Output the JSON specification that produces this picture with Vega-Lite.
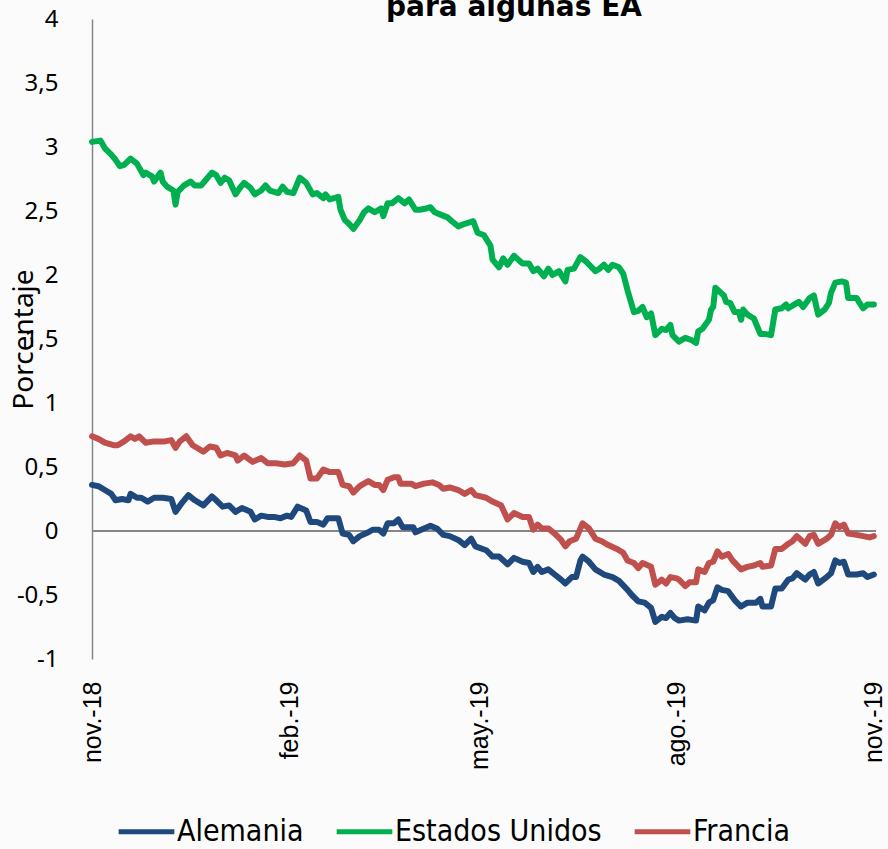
{
  "$schema": "https://vega.github.io/schema/vega-lite/v6.json",
  "autosize": {"type": "none"},
  "width": 784,
  "height": 640,
  "padding": {"left": 92, "top": 19, "right": 12, "bottom": 190},
  "background": "#fbfbfb",
  "title": {"text": "para algunas EA", "fontSize": 28, "font": "DejaVu Sans", "fontWeight": "bold", "color": "#000000", "frame": "group", "anchor": "middle", "dx": 30, "baseline": "alphabetic", "offset": -37},
  "config": {"view": {"stroke": null}, "axis": {"grid": false}},
  "data": {"values": [
    {"fecha":"2018-11-01","pais":"Estados Unidos","valor":3.04},
    {"fecha":"2018-11-05","pais":"Estados Unidos","valor":3.05},
    {"fecha":"2018-11-07","pais":"Estados Unidos","valor":2.99},
    {"fecha":"2018-11-10","pais":"Estados Unidos","valor":2.94},
    {"fecha":"2018-11-12","pais":"Estados Unidos","valor":2.90},
    {"fecha":"2018-11-14","pais":"Estados Unidos","valor":2.85},
    {"fecha":"2018-11-16","pais":"Estados Unidos","valor":2.86},
    {"fecha":"2018-11-19","pais":"Estados Unidos","valor":2.91},
    {"fecha":"2018-11-22","pais":"Estados Unidos","valor":2.87},
    {"fecha":"2018-11-25","pais":"Estados Unidos","valor":2.78},
    {"fecha":"2018-11-26","pais":"Estados Unidos","valor":2.80},
    {"fecha":"2018-11-29","pais":"Estados Unidos","valor":2.77},
    {"fecha":"2018-11-30","pais":"Estados Unidos","valor":2.73},
    {"fecha":"2018-12-03","pais":"Estados Unidos","valor":2.80},
    {"fecha":"2018-12-04","pais":"Estados Unidos","valor":2.73},
    {"fecha":"2018-12-06","pais":"Estados Unidos","valor":2.69},
    {"fecha":"2018-12-09","pais":"Estados Unidos","valor":2.66},
    {"fecha":"2018-12-10","pais":"Estados Unidos","valor":2.55},
    {"fecha":"2018-12-11","pais":"Estados Unidos","valor":2.65},
    {"fecha":"2018-12-14","pais":"Estados Unidos","valor":2.70},
    {"fecha":"2018-12-17","pais":"Estados Unidos","valor":2.73},
    {"fecha":"2018-12-19","pais":"Estados Unidos","valor":2.70},
    {"fecha":"2018-12-22","pais":"Estados Unidos","valor":2.70},
    {"fecha":"2018-12-24","pais":"Estados Unidos","valor":2.74},
    {"fecha":"2018-12-27","pais":"Estados Unidos","valor":2.80},
    {"fecha":"2018-12-29","pais":"Estados Unidos","valor":2.78},
    {"fecha":"2018-12-31","pais":"Estados Unidos","valor":2.72},
    {"fecha":"2019-01-02","pais":"Estados Unidos","valor":2.76},
    {"fecha":"2019-01-04","pais":"Estados Unidos","valor":2.74},
    {"fecha":"2019-01-07","pais":"Estados Unidos","valor":2.63},
    {"fecha":"2019-01-09","pais":"Estados Unidos","valor":2.68},
    {"fecha":"2019-01-11","pais":"Estados Unidos","valor":2.72},
    {"fecha":"2019-01-14","pais":"Estados Unidos","valor":2.68},
    {"fecha":"2019-01-16","pais":"Estados Unidos","valor":2.63},
    {"fecha":"2019-01-19","pais":"Estados Unidos","valor":2.66},
    {"fecha":"2019-01-21","pais":"Estados Unidos","valor":2.70},
    {"fecha":"2019-01-23","pais":"Estados Unidos","valor":2.66},
    {"fecha":"2019-01-27","pais":"Estados Unidos","valor":2.64},
    {"fecha":"2019-01-29","pais":"Estados Unidos","valor":2.69},
    {"fecha":"2019-01-31","pais":"Estados Unidos","valor":2.65},
    {"fecha":"2019-02-03","pais":"Estados Unidos","valor":2.64},
    {"fecha":"2019-02-06","pais":"Estados Unidos","valor":2.76},
    {"fecha":"2019-02-09","pais":"Estados Unidos","valor":2.72},
    {"fecha":"2019-02-12","pais":"Estados Unidos","valor":2.63},
    {"fecha":"2019-02-14","pais":"Estados Unidos","valor":2.64},
    {"fecha":"2019-02-17","pais":"Estados Unidos","valor":2.60},
    {"fecha":"2019-02-18","pais":"Estados Unidos","valor":2.63},
    {"fecha":"2019-02-20","pais":"Estados Unidos","valor":2.59},
    {"fecha":"2019-02-24","pais":"Estados Unidos","valor":2.61},
    {"fecha":"2019-02-25","pais":"Estados Unidos","valor":2.51},
    {"fecha":"2019-02-27","pais":"Estados Unidos","valor":2.43},
    {"fecha":"2019-03-01","pais":"Estados Unidos","valor":2.40},
    {"fecha":"2019-03-03","pais":"Estados Unidos","valor":2.36},
    {"fecha":"2019-03-06","pais":"Estados Unidos","valor":2.43},
    {"fecha":"2019-03-08","pais":"Estados Unidos","valor":2.49},
    {"fecha":"2019-03-10","pais":"Estados Unidos","valor":2.52},
    {"fecha":"2019-03-13","pais":"Estados Unidos","valor":2.49},
    {"fecha":"2019-03-16","pais":"Estados Unidos","valor":2.52},
    {"fecha":"2019-03-17","pais":"Estados Unidos","valor":2.46},
    {"fecha":"2019-03-19","pais":"Estados Unidos","valor":2.56},
    {"fecha":"2019-03-21","pais":"Estados Unidos","valor":2.56},
    {"fecha":"2019-03-24","pais":"Estados Unidos","valor":2.60},
    {"fecha":"2019-03-27","pais":"Estados Unidos","valor":2.56},
    {"fecha":"2019-03-29","pais":"Estados Unidos","valor":2.59},
    {"fecha":"2019-04-01","pais":"Estados Unidos","valor":2.51},
    {"fecha":"2019-04-03","pais":"Estados Unidos","valor":2.51},
    {"fecha":"2019-04-06","pais":"Estados Unidos","valor":2.52},
    {"fecha":"2019-04-08","pais":"Estados Unidos","valor":2.53},
    {"fecha":"2019-04-10","pais":"Estados Unidos","valor":2.49},
    {"fecha":"2019-04-13","pais":"Estados Unidos","valor":2.47},
    {"fecha":"2019-04-16","pais":"Estados Unidos","valor":2.45},
    {"fecha":"2019-04-18","pais":"Estados Unidos","valor":2.42},
    {"fecha":"2019-04-21","pais":"Estados Unidos","valor":2.38},
    {"fecha":"2019-04-24","pais":"Estados Unidos","valor":2.40},
    {"fecha":"2019-04-28","pais":"Estados Unidos","valor":2.42},
    {"fecha":"2019-04-30","pais":"Estados Unidos","valor":2.33},
    {"fecha":"2019-05-03","pais":"Estados Unidos","valor":2.31},
    {"fecha":"2019-05-06","pais":"Estados Unidos","valor":2.23},
    {"fecha":"2019-05-07","pais":"Estados Unidos","valor":2.12},
    {"fecha":"2019-05-10","pais":"Estados Unidos","valor":2.06},
    {"fecha":"2019-05-12","pais":"Estados Unidos","valor":2.13},
    {"fecha":"2019-05-14","pais":"Estados Unidos","valor":2.08},
    {"fecha":"2019-05-17","pais":"Estados Unidos","valor":2.15},
    {"fecha":"2019-05-21","pais":"Estados Unidos","valor":2.09},
    {"fecha":"2019-05-24","pais":"Estados Unidos","valor":2.09},
    {"fecha":"2019-05-26","pais":"Estados Unidos","valor":2.03},
    {"fecha":"2019-05-28","pais":"Estados Unidos","valor":2.05},
    {"fecha":"2019-05-31","pais":"Estados Unidos","valor":1.99},
    {"fecha":"2019-06-02","pais":"Estados Unidos","valor":2.05},
    {"fecha":"2019-06-04","pais":"Estados Unidos","valor":2.00},
    {"fecha":"2019-06-07","pais":"Estados Unidos","valor":2.03},
    {"fecha":"2019-06-10","pais":"Estados Unidos","valor":1.95},
    {"fecha":"2019-06-11","pais":"Estados Unidos","valor":2.04},
    {"fecha":"2019-06-14","pais":"Estados Unidos","valor":2.05},
    {"fecha":"2019-06-17","pais":"Estados Unidos","valor":2.14},
    {"fecha":"2019-06-20","pais":"Estados Unidos","valor":2.10},
    {"fecha":"2019-06-24","pais":"Estados Unidos","valor":2.03},
    {"fecha":"2019-06-26","pais":"Estados Unidos","valor":2.05},
    {"fecha":"2019-06-28","pais":"Estados Unidos","valor":2.08},
    {"fecha":"2019-06-30","pais":"Estados Unidos","valor":2.04},
    {"fecha":"2019-07-02","pais":"Estados Unidos","valor":2.08},
    {"fecha":"2019-07-05","pais":"Estados Unidos","valor":2.06},
    {"fecha":"2019-07-07","pais":"Estados Unidos","valor":2.01},
    {"fecha":"2019-07-09","pais":"Estados Unidos","valor":1.88},
    {"fecha":"2019-07-12","pais":"Estados Unidos","valor":1.71},
    {"fecha":"2019-07-14","pais":"Estados Unidos","valor":1.72},
    {"fecha":"2019-07-16","pais":"Estados Unidos","valor":1.75},
    {"fecha":"2019-07-18","pais":"Estados Unidos","valor":1.67},
    {"fecha":"2019-07-20","pais":"Estados Unidos","valor":1.70},
    {"fecha":"2019-07-22","pais":"Estados Unidos","valor":1.53},
    {"fecha":"2019-07-25","pais":"Estados Unidos","valor":1.58},
    {"fecha":"2019-07-27","pais":"Estados Unidos","valor":1.57},
    {"fecha":"2019-07-29","pais":"Estados Unidos","valor":1.61},
    {"fecha":"2019-07-30","pais":"Estados Unidos","valor":1.53},
    {"fecha":"2019-08-02","pais":"Estados Unidos","valor":1.48},
    {"fecha":"2019-08-05","pais":"Estados Unidos","valor":1.51},
    {"fecha":"2019-08-08","pais":"Estados Unidos","valor":1.49},
    {"fecha":"2019-08-10","pais":"Estados Unidos","valor":1.47},
    {"fecha":"2019-08-11","pais":"Estados Unidos","valor":1.56},
    {"fecha":"2019-08-13","pais":"Estados Unidos","valor":1.58},
    {"fecha":"2019-08-16","pais":"Estados Unidos","valor":1.65},
    {"fecha":"2019-08-17","pais":"Estados Unidos","valor":1.73},
    {"fecha":"2019-08-18","pais":"Estados Unidos","valor":1.75},
    {"fecha":"2019-08-19","pais":"Estados Unidos","valor":1.90},
    {"fecha":"2019-08-23","pais":"Estados Unidos","valor":1.84},
    {"fecha":"2019-08-24","pais":"Estados Unidos","valor":1.79},
    {"fecha":"2019-08-26","pais":"Estados Unidos","valor":1.78},
    {"fecha":"2019-08-28","pais":"Estados Unidos","valor":1.71},
    {"fecha":"2019-08-30","pais":"Estados Unidos","valor":1.71},
    {"fecha":"2019-08-31","pais":"Estados Unidos","valor":1.65},
    {"fecha":"2019-09-01","pais":"Estados Unidos","valor":1.73},
    {"fecha":"2019-09-03","pais":"Estados Unidos","valor":1.69},
    {"fecha":"2019-09-06","pais":"Estados Unidos","valor":1.66},
    {"fecha":"2019-09-09","pais":"Estados Unidos","valor":1.54},
    {"fecha":"2019-09-11","pais":"Estados Unidos","valor":1.54},
    {"fecha":"2019-09-14","pais":"Estados Unidos","valor":1.53},
    {"fecha":"2019-09-16","pais":"Estados Unidos","valor":1.73},
    {"fecha":"2019-09-19","pais":"Estados Unidos","valor":1.74},
    {"fecha":"2019-09-21","pais":"Estados Unidos","valor":1.77},
    {"fecha":"2019-09-22","pais":"Estados Unidos","valor":1.74},
    {"fecha":"2019-09-25","pais":"Estados Unidos","valor":1.77},
    {"fecha":"2019-09-27","pais":"Estados Unidos","valor":1.79},
    {"fecha":"2019-09-29","pais":"Estados Unidos","valor":1.75},
    {"fecha":"2019-10-02","pais":"Estados Unidos","valor":1.82},
    {"fecha":"2019-10-04","pais":"Estados Unidos","valor":1.84},
    {"fecha":"2019-10-06","pais":"Estados Unidos","valor":1.69},
    {"fecha":"2019-10-09","pais":"Estados Unidos","valor":1.73},
    {"fecha":"2019-10-11","pais":"Estados Unidos","valor":1.78},
    {"fecha":"2019-10-12","pais":"Estados Unidos","valor":1.86},
    {"fecha":"2019-10-14","pais":"Estados Unidos","valor":1.94},
    {"fecha":"2019-10-17","pais":"Estados Unidos","valor":1.95},
    {"fecha":"2019-10-19","pais":"Estados Unidos","valor":1.94},
    {"fecha":"2019-10-20","pais":"Estados Unidos","valor":1.82},
    {"fecha":"2019-10-24","pais":"Estados Unidos","valor":1.82},
    {"fecha":"2019-10-25","pais":"Estados Unidos","valor":1.79},
    {"fecha":"2019-10-27","pais":"Estados Unidos","valor":1.74},
    {"fecha":"2019-10-29","pais":"Estados Unidos","valor":1.77},
    {"fecha":"2019-11-01","pais":"Estados Unidos","valor":1.77},

    {"fecha":"2018-11-01","pais":"Francia","valor":0.74},
    {"fecha":"2018-11-04","pais":"Francia","valor":0.72},
    {"fecha":"2018-11-07","pais":"Francia","valor":0.69},
    {"fecha":"2018-11-11","pais":"Francia","valor":0.67},
    {"fecha":"2018-11-13","pais":"Francia","valor":0.67},
    {"fecha":"2018-11-16","pais":"Francia","valor":0.70},
    {"fecha":"2018-11-19","pais":"Francia","valor":0.74},
    {"fecha":"2018-11-21","pais":"Francia","valor":0.72},
    {"fecha":"2018-11-23","pais":"Francia","valor":0.74},
    {"fecha":"2018-11-26","pais":"Francia","valor":0.69},
    {"fecha":"2018-11-30","pais":"Francia","valor":0.70},
    {"fecha":"2018-12-05","pais":"Francia","valor":0.70},
    {"fecha":"2018-12-08","pais":"Francia","valor":0.71},
    {"fecha":"2018-12-10","pais":"Francia","valor":0.65},
    {"fecha":"2018-12-12","pais":"Francia","valor":0.70},
    {"fecha":"2018-12-15","pais":"Francia","valor":0.74},
    {"fecha":"2018-12-18","pais":"Francia","valor":0.67},
    {"fecha":"2018-12-23","pais":"Francia","valor":0.62},
    {"fecha":"2018-12-26","pais":"Francia","valor":0.66},
    {"fecha":"2018-12-29","pais":"Francia","valor":0.65},
    {"fecha":"2018-12-31","pais":"Francia","valor":0.59},
    {"fecha":"2019-01-03","pais":"Francia","valor":0.61},
    {"fecha":"2019-01-07","pais":"Francia","valor":0.59},
    {"fecha":"2019-01-08","pais":"Francia","valor":0.55},
    {"fecha":"2019-01-11","pais":"Francia","valor":0.59},
    {"fecha":"2019-01-15","pais":"Francia","valor":0.54},
    {"fecha":"2019-01-19","pais":"Francia","valor":0.57},
    {"fecha":"2019-01-22","pais":"Francia","valor":0.53},
    {"fecha":"2019-01-26","pais":"Francia","valor":0.53},
    {"fecha":"2019-01-30","pais":"Francia","valor":0.52},
    {"fecha":"2019-02-03","pais":"Francia","valor":0.53},
    {"fecha":"2019-02-06","pais":"Francia","valor":0.59},
    {"fecha":"2019-02-09","pais":"Francia","valor":0.55},
    {"fecha":"2019-02-11","pais":"Francia","valor":0.41},
    {"fecha":"2019-02-14","pais":"Francia","valor":0.41},
    {"fecha":"2019-02-17","pais":"Francia","valor":0.48},
    {"fecha":"2019-02-20","pais":"Francia","valor":0.46},
    {"fecha":"2019-02-24","pais":"Francia","valor":0.46},
    {"fecha":"2019-02-26","pais":"Francia","valor":0.36},
    {"fecha":"2019-03-01","pais":"Francia","valor":0.35},
    {"fecha":"2019-03-03","pais":"Francia","valor":0.30},
    {"fecha":"2019-03-06","pais":"Francia","valor":0.35},
    {"fecha":"2019-03-10","pais":"Francia","valor":0.39},
    {"fecha":"2019-03-13","pais":"Francia","valor":0.36},
    {"fecha":"2019-03-15","pais":"Francia","valor":0.36},
    {"fecha":"2019-03-17","pais":"Francia","valor":0.32},
    {"fecha":"2019-03-19","pais":"Francia","valor":0.40},
    {"fecha":"2019-03-22","pais":"Francia","valor":0.42},
    {"fecha":"2019-03-24","pais":"Francia","valor":0.42},
    {"fecha":"2019-03-25","pais":"Francia","valor":0.37},
    {"fecha":"2019-03-30","pais":"Francia","valor":0.37},
    {"fecha":"2019-04-01","pais":"Francia","valor":0.35},
    {"fecha":"2019-04-05","pais":"Francia","valor":0.37},
    {"fecha":"2019-04-09","pais":"Francia","valor":0.38},
    {"fecha":"2019-04-12","pais":"Francia","valor":0.36},
    {"fecha":"2019-04-14","pais":"Francia","valor":0.33},
    {"fecha":"2019-04-17","pais":"Francia","valor":0.34},
    {"fecha":"2019-04-21","pais":"Francia","valor":0.32},
    {"fecha":"2019-04-24","pais":"Francia","valor":0.29},
    {"fecha":"2019-04-27","pais":"Francia","valor":0.32},
    {"fecha":"2019-04-29","pais":"Francia","valor":0.28},
    {"fecha":"2019-05-04","pais":"Francia","valor":0.26},
    {"fecha":"2019-05-07","pais":"Francia","valor":0.23},
    {"fecha":"2019-05-11","pais":"Francia","valor":0.20},
    {"fecha":"2019-05-14","pais":"Francia","valor":0.09},
    {"fecha":"2019-05-17","pais":"Francia","valor":0.14},
    {"fecha":"2019-05-21","pais":"Francia","valor":0.11},
    {"fecha":"2019-05-24","pais":"Francia","valor":0.11},
    {"fecha":"2019-05-26","pais":"Francia","valor":0.01},
    {"fecha":"2019-05-28","pais":"Francia","valor":0.05},
    {"fecha":"2019-05-30","pais":"Francia","valor":0.02},
    {"fecha":"2019-06-02","pais":"Francia","valor":0.02},
    {"fecha":"2019-06-05","pais":"Francia","valor":-0.02},
    {"fecha":"2019-06-08","pais":"Francia","valor":-0.07},
    {"fecha":"2019-06-10","pais":"Francia","valor":-0.12},
    {"fecha":"2019-06-12","pais":"Francia","valor":-0.08},
    {"fecha":"2019-06-15","pais":"Francia","valor":-0.06},
    {"fecha":"2019-06-18","pais":"Francia","valor":0.06},
    {"fecha":"2019-06-21","pais":"Francia","valor":0.02},
    {"fecha":"2019-06-24","pais":"Francia","valor":-0.06},
    {"fecha":"2019-06-27","pais":"Francia","valor":-0.08},
    {"fecha":"2019-06-30","pais":"Francia","valor":-0.11},
    {"fecha":"2019-07-04","pais":"Francia","valor":-0.14},
    {"fecha":"2019-07-07","pais":"Francia","valor":-0.17},
    {"fecha":"2019-07-09","pais":"Francia","valor":-0.23},
    {"fecha":"2019-07-12","pais":"Francia","valor":-0.25},
    {"fecha":"2019-07-14","pais":"Francia","valor":-0.29},
    {"fecha":"2019-07-16","pais":"Francia","valor":-0.25},
    {"fecha":"2019-07-20","pais":"Francia","valor":-0.28},
    {"fecha":"2019-07-22","pais":"Francia","valor":-0.42},
    {"fecha":"2019-07-25","pais":"Francia","valor":-0.38},
    {"fecha":"2019-07-27","pais":"Francia","valor":-0.41},
    {"fecha":"2019-07-29","pais":"Francia","valor":-0.36},
    {"fecha":"2019-08-01","pais":"Francia","valor":-0.37},
    {"fecha":"2019-08-02","pais":"Francia","valor":-0.38},
    {"fecha":"2019-08-05","pais":"Francia","valor":-0.43},
    {"fecha":"2019-08-07","pais":"Francia","valor":-0.40},
    {"fecha":"2019-08-10","pais":"Francia","valor":-0.40},
    {"fecha":"2019-08-11","pais":"Francia","valor":-0.30},
    {"fecha":"2019-08-14","pais":"Francia","valor":-0.32},
    {"fecha":"2019-08-16","pais":"Francia","valor":-0.25},
    {"fecha":"2019-08-18","pais":"Francia","valor":-0.24},
    {"fecha":"2019-08-20","pais":"Francia","valor":-0.16},
    {"fecha":"2019-08-22","pais":"Francia","valor":-0.20},
    {"fecha":"2019-08-25","pais":"Francia","valor":-0.18},
    {"fecha":"2019-08-27","pais":"Francia","valor":-0.23},
    {"fecha":"2019-08-31","pais":"Francia","valor":-0.30},
    {"fecha":"2019-09-03","pais":"Francia","valor":-0.28},
    {"fecha":"2019-09-06","pais":"Francia","valor":-0.27},
    {"fecha":"2019-09-09","pais":"Francia","valor":-0.25},
    {"fecha":"2019-09-10","pais":"Francia","valor":-0.28},
    {"fecha":"2019-09-14","pais":"Francia","valor":-0.27},
    {"fecha":"2019-09-16","pais":"Francia","valor":-0.14},
    {"fecha":"2019-09-19","pais":"Francia","valor":-0.14},
    {"fecha":"2019-09-22","pais":"Francia","valor":-0.10},
    {"fecha":"2019-09-24","pais":"Francia","valor":-0.08},
    {"fecha":"2019-09-26","pais":"Francia","valor":-0.04},
    {"fecha":"2019-09-30","pais":"Francia","valor":-0.10},
    {"fecha":"2019-10-02","pais":"Francia","valor":-0.04},
    {"fecha":"2019-10-04","pais":"Francia","valor":-0.03},
    {"fecha":"2019-10-06","pais":"Francia","valor":-0.10},
    {"fecha":"2019-10-10","pais":"Francia","valor":-0.06},
    {"fecha":"2019-10-12","pais":"Francia","valor":-0.03},
    {"fecha":"2019-10-14","pais":"Francia","valor":0.06},
    {"fecha":"2019-10-16","pais":"Francia","valor":0.03},
    {"fecha":"2019-10-18","pais":"Francia","valor":0.05},
    {"fecha":"2019-10-20","pais":"Francia","valor":-0.02},
    {"fecha":"2019-10-24","pais":"Francia","valor":-0.03},
    {"fecha":"2019-10-27","pais":"Francia","valor":-0.04},
    {"fecha":"2019-10-30","pais":"Francia","valor":-0.05},
    {"fecha":"2019-11-01","pais":"Francia","valor":-0.04},

    {"fecha":"2018-11-01","pais":"Alemania","valor":0.36},
    {"fecha":"2018-11-04","pais":"Alemania","valor":0.35},
    {"fecha":"2018-11-07","pais":"Alemania","valor":0.32},
    {"fecha":"2018-11-10","pais":"Alemania","valor":0.29},
    {"fecha":"2018-11-12","pais":"Alemania","valor":0.24},
    {"fecha":"2018-11-15","pais":"Alemania","valor":0.25},
    {"fecha":"2018-11-18","pais":"Alemania","valor":0.24},
    {"fecha":"2018-11-19","pais":"Alemania","valor":0.29},
    {"fecha":"2018-11-22","pais":"Alemania","valor":0.26},
    {"fecha":"2018-11-24","pais":"Alemania","valor":0.26},
    {"fecha":"2018-11-27","pais":"Alemania","valor":0.23},
    {"fecha":"2018-11-30","pais":"Alemania","valor":0.26},
    {"fecha":"2018-12-04","pais":"Alemania","valor":0.26},
    {"fecha":"2018-12-08","pais":"Alemania","valor":0.25},
    {"fecha":"2018-12-10","pais":"Alemania","valor":0.15},
    {"fecha":"2018-12-13","pais":"Alemania","valor":0.22},
    {"fecha":"2018-12-16","pais":"Alemania","valor":0.28},
    {"fecha":"2018-12-19","pais":"Alemania","valor":0.24},
    {"fecha":"2018-12-23","pais":"Alemania","valor":0.20},
    {"fecha":"2018-12-27","pais":"Alemania","valor":0.27},
    {"fecha":"2018-12-29","pais":"Alemania","valor":0.24},
    {"fecha":"2019-01-01","pais":"Alemania","valor":0.19},
    {"fecha":"2019-01-04","pais":"Alemania","valor":0.20},
    {"fecha":"2019-01-07","pais":"Alemania","valor":0.15},
    {"fecha":"2019-01-10","pais":"Alemania","valor":0.18},
    {"fecha":"2019-01-14","pais":"Alemania","valor":0.15},
    {"fecha":"2019-01-16","pais":"Alemania","valor":0.09},
    {"fecha":"2019-01-19","pais":"Alemania","valor":0.12},
    {"fecha":"2019-01-22","pais":"Alemania","valor":0.11},
    {"fecha":"2019-01-25","pais":"Alemania","valor":0.11},
    {"fecha":"2019-01-28","pais":"Alemania","valor":0.10},
    {"fecha":"2019-01-31","pais":"Alemania","valor":0.12},
    {"fecha":"2019-02-02","pais":"Alemania","valor":0.11},
    {"fecha":"2019-02-05","pais":"Alemania","valor":0.19},
    {"fecha":"2019-02-09","pais":"Alemania","valor":0.16},
    {"fecha":"2019-02-11","pais":"Alemania","valor":0.07},
    {"fecha":"2019-02-14","pais":"Alemania","valor":0.07},
    {"fecha":"2019-02-17","pais":"Alemania","valor":0.05},
    {"fecha":"2019-02-19","pais":"Alemania","valor":0.10},
    {"fecha":"2019-02-24","pais":"Alemania","valor":0.10},
    {"fecha":"2019-02-26","pais":"Alemania","valor":-0.02},
    {"fecha":"2019-03-01","pais":"Alemania","valor":-0.03},
    {"fecha":"2019-03-03","pais":"Alemania","valor":-0.08},
    {"fecha":"2019-03-06","pais":"Alemania","valor":-0.04},
    {"fecha":"2019-03-10","pais":"Alemania","valor":-0.01},
    {"fecha":"2019-03-12","pais":"Alemania","valor":0.01},
    {"fecha":"2019-03-15","pais":"Alemania","valor":0.01},
    {"fecha":"2019-03-17","pais":"Alemania","valor":-0.02},
    {"fecha":"2019-03-19","pais":"Alemania","valor":0.06},
    {"fecha":"2019-03-22","pais":"Alemania","valor":0.06},
    {"fecha":"2019-03-24","pais":"Alemania","valor":0.09},
    {"fecha":"2019-03-26","pais":"Alemania","valor":0.03},
    {"fecha":"2019-03-31","pais":"Alemania","valor":0.03},
    {"fecha":"2019-04-01","pais":"Alemania","valor":-0.01},
    {"fecha":"2019-04-05","pais":"Alemania","valor":0.02},
    {"fecha":"2019-04-08","pais":"Alemania","valor":0.04},
    {"fecha":"2019-04-11","pais":"Alemania","valor":0.02},
    {"fecha":"2019-04-14","pais":"Alemania","valor":-0.03},
    {"fecha":"2019-04-17","pais":"Alemania","valor":-0.04},
    {"fecha":"2019-04-21","pais":"Alemania","valor":-0.07},
    {"fecha":"2019-04-24","pais":"Alemania","valor":-0.11},
    {"fecha":"2019-04-27","pais":"Alemania","valor":-0.06},
    {"fecha":"2019-04-29","pais":"Alemania","valor":-0.12},
    {"fecha":"2019-05-04","pais":"Alemania","valor":-0.15},
    {"fecha":"2019-05-07","pais":"Alemania","valor":-0.20},
    {"fecha":"2019-05-10","pais":"Alemania","valor":-0.20},
    {"fecha":"2019-05-14","pais":"Alemania","valor":-0.26},
    {"fecha":"2019-05-17","pais":"Alemania","valor":-0.21},
    {"fecha":"2019-05-21","pais":"Alemania","valor":-0.24},
    {"fecha":"2019-05-24","pais":"Alemania","valor":-0.25},
    {"fecha":"2019-05-26","pais":"Alemania","valor":-0.32},
    {"fecha":"2019-05-28","pais":"Alemania","valor":-0.28},
    {"fecha":"2019-05-30","pais":"Alemania","valor":-0.32},
    {"fecha":"2019-06-02","pais":"Alemania","valor":-0.30},
    {"fecha":"2019-06-05","pais":"Alemania","valor":-0.34},
    {"fecha":"2019-06-08","pais":"Alemania","valor":-0.38},
    {"fecha":"2019-06-10","pais":"Alemania","valor":-0.41},
    {"fecha":"2019-06-13","pais":"Alemania","valor":-0.36},
    {"fecha":"2019-06-15","pais":"Alemania","valor":-0.36},
    {"fecha":"2019-06-17","pais":"Alemania","valor":-0.23},
    {"fecha":"2019-06-18","pais":"Alemania","valor":-0.20},
    {"fecha":"2019-06-21","pais":"Alemania","valor":-0.24},
    {"fecha":"2019-06-24","pais":"Alemania","valor":-0.30},
    {"fecha":"2019-06-28","pais":"Alemania","valor":-0.34},
    {"fecha":"2019-07-02","pais":"Alemania","valor":-0.36},
    {"fecha":"2019-07-05","pais":"Alemania","valor":-0.39},
    {"fecha":"2019-07-09","pais":"Alemania","valor":-0.46},
    {"fecha":"2019-07-11","pais":"Alemania","valor":-0.50},
    {"fecha":"2019-07-14","pais":"Alemania","valor":-0.55},
    {"fecha":"2019-07-17","pais":"Alemania","valor":-0.56},
    {"fecha":"2019-07-20","pais":"Alemania","valor":-0.60},
    {"fecha":"2019-07-22","pais":"Alemania","valor":-0.71},
    {"fecha":"2019-07-25","pais":"Alemania","valor":-0.67},
    {"fecha":"2019-07-27","pais":"Alemania","valor":-0.68},
    {"fecha":"2019-07-29","pais":"Alemania","valor":-0.64},
    {"fecha":"2019-07-31","pais":"Alemania","valor":-0.68},
    {"fecha":"2019-08-02","pais":"Alemania","valor":-0.70},
    {"fecha":"2019-08-06","pais":"Alemania","valor":-0.69},
    {"fecha":"2019-08-10","pais":"Alemania","valor":-0.70},
    {"fecha":"2019-08-11","pais":"Alemania","valor":-0.59},
    {"fecha":"2019-08-14","pais":"Alemania","valor":-0.62},
    {"fecha":"2019-08-16","pais":"Alemania","valor":-0.56},
    {"fecha":"2019-08-18","pais":"Alemania","valor":-0.54},
    {"fecha":"2019-08-20","pais":"Alemania","valor":-0.44},
    {"fecha":"2019-08-22","pais":"Alemania","valor":-0.46},
    {"fecha":"2019-08-25","pais":"Alemania","valor":-0.47},
    {"fecha":"2019-08-28","pais":"Alemania","valor":-0.54},
    {"fecha":"2019-08-31","pais":"Alemania","valor":-0.59},
    {"fecha":"2019-09-03","pais":"Alemania","valor":-0.56},
    {"fecha":"2019-09-07","pais":"Alemania","valor":-0.56},
    {"fecha":"2019-09-09","pais":"Alemania","valor":-0.53},
    {"fecha":"2019-09-10","pais":"Alemania","valor":-0.59},
    {"fecha":"2019-09-14","pais":"Alemania","valor":-0.59},
    {"fecha":"2019-09-16","pais":"Alemania","valor":-0.45},
    {"fecha":"2019-09-19","pais":"Alemania","valor":-0.45},
    {"fecha":"2019-09-22","pais":"Alemania","valor":-0.38},
    {"fecha":"2019-09-24","pais":"Alemania","valor":-0.37},
    {"fecha":"2019-09-26","pais":"Alemania","valor":-0.33},
    {"fecha":"2019-09-30","pais":"Alemania","valor":-0.38},
    {"fecha":"2019-10-02","pais":"Alemania","valor":-0.34},
    {"fecha":"2019-10-04","pais":"Alemania","valor":-0.32},
    {"fecha":"2019-10-06","pais":"Alemania","valor":-0.41},
    {"fecha":"2019-10-10","pais":"Alemania","valor":-0.36},
    {"fecha":"2019-10-12","pais":"Alemania","valor":-0.33},
    {"fecha":"2019-10-14","pais":"Alemania","valor":-0.23},
    {"fecha":"2019-10-16","pais":"Alemania","valor":-0.25},
    {"fecha":"2019-10-18","pais":"Alemania","valor":-0.24},
    {"fecha":"2019-10-20","pais":"Alemania","valor":-0.34},
    {"fecha":"2019-10-24","pais":"Alemania","valor":-0.34},
    {"fecha":"2019-10-27","pais":"Alemania","valor":-0.33},
    {"fecha":"2019-10-29","pais":"Alemania","valor":-0.36},
    {"fecha":"2019-11-01","pais":"Alemania","valor":-0.34}
  ]},
  "layer": [
    {
      "mark": {"type": "rule", "color": "#868686", "strokeWidth": 1.5},
      "encoding": {
        "y": {"datum": 0, "type": "quantitative",
          "scale": {"domain": [-1, 4], "nice": false, "zero": false},
          "axis": {"title": "Porcentaje", "values": [-1, -0.5, 0, 0.5, 1, 1.5, 2, 2.5, 3, 3.5, 4], "labelExpr": "replace(toString(datum.value), '.', ',')", "domain": true, "domainColor": "#868686", "domainWidth": 1.5, "ticks": false, "labelPadding": 34, "labelFont": "Noto Sans", "labelFontSize": 24, "labelColor": "#000000", "titleFont": "Noto Sans", "titleFontSize": 28, "titleFontWeight": "normal", "titleColor": "#000000", "titleX": -60, "titleBaseline": "alphabetic"}}
      }
    },
    {
      "mark": {"type": "line", "strokeWidth": 6, "strokeJoin": "round", "strokeCap": "round"},
      "encoding": {
        "x": {"field": "fecha", "type": "temporal",
          "scale": {"type": "utc", "domain": [{"year": 2018, "month": 11, "date": 1, "utc": true}, {"year": 2019, "month": 11, "date": 2, "utc": true}], "nice": false},
          "axis": {"title": null, "values": [{"year": 2018, "month": 11, "date": 1, "utc": true}, {"year": 2019, "month": 2, "date": 1, "utc": true}, {"year": 2019, "month": 5, "date": 1, "utc": true}, {"year": 2019, "month": 8, "date": 1, "utc": true}, {"year": 2019, "month": 11, "date": 1, "utc": true}],
            "labelExpr": "['ene.','feb.','mar.','abr.','may.','jun.','jul.','ago.','sep.','oct.','nov.','dic.'][utcmonth(datum.value)] + '-' + utcFormat(datum.value, '%y')",
            "labelAngle": 270, "labelAlign": "right", "labelBaseline": "middle", "labelPadding": 22, "domain": false, "ticks": false, "labelFont": "Liberation Sans", "labelFontSize": 25, "labelColor": "#000000", "labelOverlap": false, "labelFlush": false}},
        "y": {"field": "valor", "type": "quantitative",
          "scale": {"domain": [-1, 4], "nice": false, "zero": false},
          "axis": {"title": "Porcentaje", "values": [-1, -0.5, 0, 0.5, 1, 1.5, 2, 2.5, 3, 3.5, 4], "labelExpr": "replace(toString(datum.value), '.', ',')", "domain": true, "domainColor": "#868686", "domainWidth": 1.5, "ticks": false, "labelPadding": 34, "labelFont": "Noto Sans", "labelFontSize": 24, "labelColor": "#000000", "titleFont": "Noto Sans", "titleFontSize": 28, "titleFontWeight": "normal", "titleColor": "#000000", "titleX": -60, "titleBaseline": "alphabetic"}},
        "color": {"field": "pais", "type": "nominal",
          "scale": {"domain": ["Alemania", "Estados Unidos", "Francia"], "range": ["#1F497D", "#00B050", "#C0504D"]},
          "legend": {"title": null, "orient": "bottom", "direction": "horizontal", "symbolType": "stroke", "symbolStrokeWidth": 5, "symbolSize": 3100, "labelFont": "DejaVu Sans Condensed, Liberation Sans Narrow, Liberation Sans, sans-serif", "labelFontSize": 30, "labelColor": "#000000", "labelOffset": 0, "labelLimit": 400, "columnPadding": 22, "padding": 24, "offset": 7}}
      }
    }
  ]
}
